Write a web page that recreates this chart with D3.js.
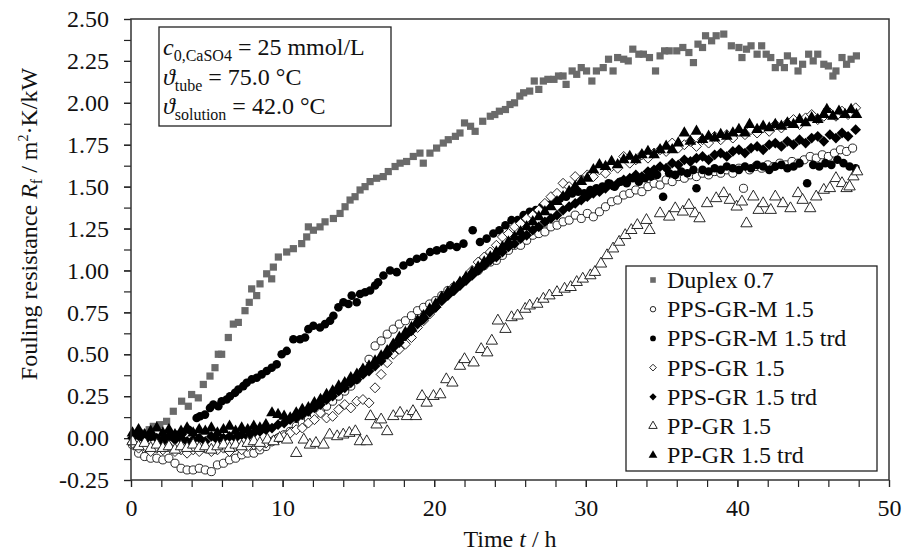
<!DOCTYPE html>
<html>

<head>
  <meta charset="utf-8">
  <title>Fouling resistance vs time</title>
  <style>
    body {
      margin: 0;
      background: #fff;
    }

    svg,
    svg text {
      font-family: "Liberation Serif", "Times New Roman", serif;
    }

    .axis text {
      font-size: 24px;
      fill: #111;
    }

    .axis line {
      stroke: #222;
      stroke-width: 1.2px;
    }

    .axis path {
      display: none;
    }
  </style>
</head>

<body>
  <svg width="905" height="552"></svg>

  <script src="https://d3js.org/d3.v7.min.js"></script>
  <script>
    // values: [time t (h), Rf (m2K/kW)]
    var duplex = [
      [0.1, 0.01], [0.5, 0.02], [0.9, 0.03], [1.2, 0.05], [1.47, 0.07], [1.9, 0.08], [2.35, 0.10], [2.79, 0.16],
      [3.34, 0.22], [3.78, 0.19], [4.0, 0.26], [4.44, 0.24], [4.77, 0.32], [5.21, 0.37], [5.54, 0.42], [5.76, 0.50],
      [5.98, 0.50], [6.42, 0.60], [6.75, 0.68], [7.08, 0.69], [7.52, 0.76], [7.8, 0.81], [7.96, 0.89], [8.29, 0.85],
      [8.51, 0.92], [8.95, 0.98], [9.28, 0.95], [9.39, 1.02], [9.72, 1.08], [10.27, 1.11], [10.71, 1.13], [11.26, 1.16],
      [11.59, 1.20], [11.7, 1.26], [12.03, 1.24], [12.47, 1.26], [12.8, 1.29], [13.35, 1.31], [13.79, 1.34], [14.12, 1.38],
      [14.45, 1.42], [14.78, 1.44], [15.11, 1.48], [15.44, 1.50], [15.77, 1.53], [16.2, 1.55], [16.64, 1.56], [16.97, 1.59],
      [17.42, 1.62], [17.75, 1.64], [18.18, 1.65], [18.62, 1.68], [19.06, 1.70], [19.28, 1.64], [19.72, 1.70], [20.16, 1.73],
      [20.6, 1.76], [20.93, 1.78], [21.4, 1.80], [21.7, 1.82], [22.0, 1.88], [22.4, 1.86], [22.7, 1.83], [23.2, 1.89],
      [23.7, 1.92], [24.0, 1.93], [24.3, 1.95], [24.7, 1.96], [25.0, 1.99], [25.3, 2.00], [25.65, 2.04], [25.9, 2.06],
      [26.3, 2.07], [26.6, 2.13], [26.9, 2.08], [27.2, 2.13], [27.5, 2.14], [27.9, 2.14], [28.2, 2.16], [28.5, 2.16],
      [28.7, 2.11], [29.1, 2.19], [29.4, 2.17], [29.7, 2.21], [30.05, 2.19], [30.4, 2.13], [30.7, 2.19], [31.15, 2.21],
      [31.5, 2.26], [31.8, 2.19], [32.1, 2.27], [32.5, 2.26], [32.8, 2.25], [33.1, 2.32], [33.5, 2.29], [33.8, 2.29],
      [34.2, 2.27], [34.6, 2.19], [34.9, 2.28], [35.2, 2.31], [35.5, 2.31], [36.0, 2.31], [36.4, 2.33], [36.8, 2.30],
      [37.1, 2.24], [37.4, 2.35], [37.7, 2.33], [37.9, 2.40], [38.3, 2.37], [38.6, 2.40], [39.1, 2.41], [39.6, 2.34],
      [40.1, 2.33], [40.3, 2.27], [40.6, 2.32], [40.9, 2.34], [41.3, 2.29], [41.6, 2.34], [41.9, 2.29], [42.2, 2.27],
      [42.5, 2.21], [42.8, 2.24], [43.1, 2.21], [43.3, 2.28], [43.7, 2.25], [44.0, 2.19], [44.3, 2.23], [44.7, 2.29],
      [45.0, 2.25], [45.3, 2.29], [45.7, 2.23], [46.0, 2.22], [46.3, 2.16], [46.5, 2.19], [46.9, 2.27], [47.2, 2.23],
      [47.5, 2.26], [47.85, 2.28]
    ];

    var ppsGrM = [
      [0.1, -0.04], [0.5, -0.09], [0.9, -0.11], [1.3, -0.12], [1.7, -0.12], [2.1, -0.13], [2.5, -0.12], [2.9, -0.15],
      [3.3, -0.18], [3.7, -0.19], [4.1, -0.19], [4.5, -0.18], [4.9, -0.19], [5.3, -0.20], [5.7, -0.16], [6.1, -0.15],
      [6.5, -0.13], [6.9, -0.12], [7.3, -0.10], [7.7, -0.09], [8.1, -0.09], [8.5, -0.07], [8.9, -0.05], [9.3, -0.02],
      [9.7, 0.00], [10.1, 0.02], [10.5, 0.04], [10.9, 0.07], [11.3, 0.09], [11.7, 0.11], [12.1, 0.14], [12.5, 0.16],
      [12.9, 0.19], [13.3, 0.22], [13.7, 0.25], [14.1, 0.28], [14.5, 0.31], [14.9, 0.35], [15.3, 0.40], [15.7, 0.47],
      [16.1, 0.55], [16.5, 0.58], [16.9, 0.62], [17.3, 0.65], [17.7, 0.68], [18.1, 0.70], [18.5, 0.73], [18.9, 0.76],
      [19.3, 0.78], [19.7, 0.80], [20.1, 0.82], [20.5, 0.85], [20.9, 0.88], [21.3, 0.90], [21.7, 0.92], [22.1, 0.95],
      [22.5, 0.98], [22.9, 1.00], [23.3, 1.03], [23.7, 1.05], [24.1, 1.06], [24.5, 1.09], [24.9, 1.12], [25.3, 1.15],
      [25.7, 1.15], [26.1, 1.18], [26.5, 1.21], [26.9, 1.22], [27.3, 1.23], [27.7, 1.26], [28.1, 1.27], [28.5, 1.29],
      [28.9, 1.30], [29.3, 1.33], [29.7, 1.31], [30.1, 1.34], [30.5, 1.32], [30.9, 1.35], [31.3, 1.38], [31.7, 1.41],
      [32.1, 1.42], [32.5, 1.45], [32.9, 1.46], [33.3, 1.48], [33.7, 1.47], [34.1, 1.50], [34.5, 1.52], [34.9, 1.51],
      [35.3, 1.54], [35.7, 1.53], [36.1, 1.56], [36.5, 1.55], [36.9, 1.57], [37.3, 1.56], [37.7, 1.58], [38.1, 1.57],
      [38.5, 1.59], [38.9, 1.58], [39.3, 1.60], [39.7, 1.58], [40.1, 1.61], [40.4, 1.49], [40.8, 1.60], [41.2, 1.62],
      [41.6, 1.61], [42.0, 1.63], [42.4, 1.62], [42.8, 1.64], [43.2, 1.63], [43.6, 1.65], [44.0, 1.64], [44.4, 1.66],
      [44.8, 1.68], [45.2, 1.67], [45.6, 1.69], [46.0, 1.68], [46.4, 1.70], [46.8, 1.72], [47.2, 1.71], [47.6, 1.73]
    ];

    var ppsGrMTrd = [
      [0.2, 0.02], [0.6, 0.01], [1.0, 0.00], [1.4, 0.01], [1.8, -0.01], [2.2, 0.00], [2.6, 0.01], [3.0, 0.02],
      [3.4, 0.03], [3.8, 0.05], [4.33, 0.12], [4.55, 0.13], [4.88, 0.14], [5.21, 0.18], [5.43, 0.20], [5.76, 0.19],
      [5.98, 0.22], [6.31, 0.23], [6.53, 0.25], [6.86, 0.27], [7.08, 0.29], [7.41, 0.31], [7.63, 0.33], [7.96, 0.35],
      [8.29, 0.36], [8.62, 0.38], [8.95, 0.40], [9.28, 0.42], [9.61, 0.44], [9.94, 0.50], [10.27, 0.52], [10.71, 0.59],
      [11.15, 0.59], [11.48, 0.60], [11.7, 0.65], [12.03, 0.67], [12.47, 0.66], [12.8, 0.68], [13.13, 0.70], [13.35, 0.73],
      [13.68, 0.78], [14.01, 0.81], [14.34, 0.80], [14.56, 0.85], [14.89, 0.81], [15.11, 0.86], [15.44, 0.87], [15.77, 0.88],
      [16.1, 0.91], [16.3, 0.93], [16.65, 0.97], [17.09, 1.00], [17.53, 0.99], [17.97, 1.03], [18.41, 1.05], [18.85, 1.07],
      [19.29, 1.08], [19.73, 1.11], [20.17, 1.12], [20.61, 1.13], [21.05, 1.15], [21.49, 1.14], [21.93, 1.16], [22.54, 1.24],
      [23.02, 1.17], [23.46, 1.19], [23.9, 1.22], [24.3, 1.24], [24.7, 1.27], [25.1, 1.30], [25.5, 1.30], [25.9, 1.33],
      [26.3, 1.35], [26.7, 1.36], [27.1, 1.38], [27.5, 1.39], [27.9, 1.42], [28.3, 1.43], [28.7, 1.44], [29.1, 1.46],
      [29.5, 1.47], [29.9, 1.46], [30.3, 1.48], [30.7, 1.49], [31.1, 1.50], [31.5, 1.52], [31.9, 1.50], [32.3, 1.53],
      [32.7, 1.52], [33.1, 1.55], [33.5, 1.53], [33.9, 1.55], [34.3, 1.56], [34.7, 1.57], [35.1, 1.44], [35.5, 1.58],
      [35.9, 1.57], [36.3, 1.59], [36.7, 1.58], [37.1, 1.60], [37.3, 1.49], [37.7, 1.60], [38.1, 1.59], [38.5, 1.61],
      [38.9, 1.60], [39.3, 1.62], [39.7, 1.61], [40.1, 1.60], [40.5, 1.62], [40.9, 1.61], [41.3, 1.63], [41.7, 1.62],
      [42.1, 1.60], [42.5, 1.62], [42.9, 1.63], [43.3, 1.61], [43.7, 1.62], [44.1, 1.64], [44.6, 1.52], [45.0, 1.63],
      [45.4, 1.62], [45.8, 1.64], [46.2, 1.63], [46.6, 1.66], [47.0, 1.64], [47.4, 1.62], [47.8, 1.61]
    ];

    var ppsGr = [
      [0.1, -0.03], [0.5, -0.06], [0.9, -0.05], [1.3, -0.08], [1.7, -0.06], [2.1, -0.07], [2.5, -0.05], [2.9, -0.08],
      [3.3, -0.07], [3.7, -0.09], [4.1, -0.07], [4.5, -0.08], [4.9, -0.06], [5.3, -0.08], [5.7, -0.07], [6.1, -0.06],
      [6.5, -0.08], [6.9, -0.05], [7.3, -0.07], [7.7, -0.05], [8.1, -0.04], [8.5, -0.05], [8.9, -0.03], [9.3, -0.02],
      [9.7, 0.00], [10.1, 0.01], [10.5, 0.03], [10.9, 0.05], [11.3, 0.06], [11.7, 0.09], [12.1, 0.11], [12.5, 0.15],
      [12.9, 0.12], [13.3, 0.13], [13.7, 0.17], [14.1, 0.20], [14.5, 0.18], [14.9, 0.22], [15.3, 0.23], [15.7, 0.21],
      [16.1, 0.30], [16.5, 0.38], [16.9, 0.45], [17.3, 0.50], [17.7, 0.53], [18.1, 0.56], [18.5, 0.60], [18.9, 0.66],
      [19.3, 0.70], [19.7, 0.74], [20.1, 0.78], [20.5, 0.82], [20.9, 0.86], [21.3, 0.88], [21.7, 0.92], [22.1, 0.95],
      [22.5, 1.00], [22.9, 1.05], [23.3, 1.08], [23.7, 1.11], [24.1, 1.15], [24.5, 1.20], [24.9, 1.22], [25.3, 1.26],
      [25.7, 1.28], [26.1, 1.31], [26.5, 1.33], [26.9, 1.36], [27.3, 1.40], [27.7, 1.44], [28.1, 1.46], [28.5, 1.52],
      [28.9, 1.50], [29.3, 1.56], [29.7, 1.54], [30.1, 1.57], [30.5, 1.56], [30.9, 1.60], [31.3, 1.58], [31.7, 1.62],
      [32.1, 1.61], [32.5, 1.68], [32.9, 1.64], [33.3, 1.66], [33.7, 1.69], [34.1, 1.67], [34.5, 1.70], [34.9, 1.72],
      [35.3, 1.71], [35.7, 1.76], [36.1, 1.73], [36.5, 1.75], [36.9, 1.77], [37.3, 1.74], [37.7, 1.78], [38.1, 1.76],
      [38.5, 1.80], [38.9, 1.78], [39.3, 1.81], [39.7, 1.79], [40.1, 1.83], [40.5, 1.81], [40.9, 1.84], [41.3, 1.82],
      [41.7, 1.85], [42.1, 1.83], [42.5, 1.87], [42.9, 1.85], [43.3, 1.88], [43.7, 1.90], [44.1, 1.87], [44.5, 1.91],
      [44.9, 1.93], [45.3, 1.90], [45.7, 1.92], [46.1, 1.94], [46.5, 1.92], [46.9, 1.95], [47.3, 1.93], [47.8, 1.97]
    ];

    var ppsGrTrd = [
      [0.1, 0.00], [0.5, 0.02], [0.9, -0.01], [1.3, 0.01], [1.7, 0.00], [2.1, -0.02], [2.5, 0.01], [2.9, -0.01],
      [3.3, 0.00], [3.7, -0.02], [4.1, -0.01], [4.5, 0.00], [4.9, -0.02], [5.3, 0.01], [5.7, -0.01], [6.1, 0.00],
      [6.5, 0.01], [6.9, 0.00], [7.3, 0.02], [7.7, 0.01], [8.1, 0.03], [8.5, 0.04], [8.9, 0.05], [9.3, 0.06],
      [9.7, 0.08], [10.1, 0.09], [10.5, 0.11], [10.9, 0.12], [11.3, 0.14], [11.7, 0.16], [12.1, 0.18], [12.5, 0.20],
      [12.9, 0.23], [13.3, 0.25], [13.7, 0.28], [14.1, 0.30], [14.5, 0.33], [14.9, 0.35], [15.3, 0.38], [15.7, 0.40],
      [16.1, 0.43], [16.5, 0.46], [16.9, 0.50], [17.3, 0.54], [17.7, 0.57], [18.1, 0.61], [18.5, 0.64], [18.9, 0.68],
      [19.3, 0.71], [19.7, 0.75], [20.1, 0.78], [20.5, 0.82], [20.9, 0.85], [21.3, 0.88], [21.7, 0.91], [22.1, 0.94],
      [22.5, 0.97], [22.9, 1.00], [23.3, 1.03], [23.7, 1.06], [24.1, 1.08], [24.5, 1.11], [24.9, 1.14], [25.3, 1.16],
      [25.7, 1.19], [26.1, 1.21], [26.5, 1.24], [26.9, 1.26], [27.3, 1.29], [27.7, 1.31], [28.1, 1.33], [28.5, 1.36],
      [28.9, 1.38], [29.3, 1.40], [29.7, 1.42], [30.1, 1.44], [30.5, 1.46], [30.9, 1.47], [31.3, 1.49], [31.7, 1.51],
      [32.1, 1.52], [32.5, 1.54], [32.9, 1.55], [33.3, 1.57], [33.7, 1.56], [34.1, 1.59], [34.5, 1.60], [34.9, 1.62],
      [35.3, 1.61], [35.7, 1.64], [36.1, 1.63], [36.5, 1.66], [36.9, 1.65], [37.3, 1.67], [37.7, 1.68], [38.1, 1.66],
      [38.5, 1.69], [38.9, 1.70], [39.3, 1.68], [39.7, 1.71], [40.1, 1.72], [40.5, 1.70], [40.9, 1.73], [41.3, 1.74],
      [41.7, 1.72], [42.1, 1.75], [42.5, 1.76], [42.9, 1.74], [43.3, 1.77], [43.7, 1.75], [44.1, 1.78], [44.5, 1.76],
      [44.9, 1.79], [45.3, 1.80], [45.7, 1.77], [46.1, 1.81], [46.5, 1.79], [46.9, 1.82], [47.3, 1.80], [47.8, 1.84]
    ];

    var ppGr = [
      [0.1, -0.02], [0.5, -0.05], [0.9, -0.03], [1.3, -0.06], [1.7, -0.04], [2.1, -0.06], [2.5, -0.05], [2.9, -0.07],
      [3.3, -0.05], [3.7, -0.06], [4.1, -0.04], [4.5, -0.06], [4.9, -0.05], [5.3, -0.07], [5.7, -0.05], [6.1, -0.04],
      [6.5, -0.06], [6.9, -0.04], [7.3, -0.05], [7.7, -0.03], [8.1, -0.02], [8.5, -0.03], [9.0, -0.01], [9.4, -0.02],
      [9.8, 0.00], [10.3, -0.01], [10.9, -0.09], [11.4, -0.01], [11.8, -0.04], [12.2, -0.03], [12.7, -0.04], [13.1, 0.02],
      [13.6, 0.01], [14.0, 0.02], [14.4, 0.03], [14.8, 0.04], [15.1, -0.02], [15.55, -0.02], [15.8, 0.13], [16.2, 0.08],
      [16.5, 0.11], [16.9, 0.04], [17.3, 0.13], [17.75, 0.15], [18.2, 0.13], [18.6, 0.16], [18.8, 0.13], [19.2, 0.25],
      [19.5, 0.21], [19.95, 0.25], [20.4, 0.26], [20.8, 0.35], [21.2, 0.33], [21.7, 0.43], [22.0, 0.47], [22.6, 0.45],
      [23.1, 0.53], [23.5, 0.51], [23.8, 0.58], [24.2, 0.70], [24.7, 0.65], [25.1, 0.72], [25.5, 0.73], [26.0, 0.77],
      [26.3, 0.79], [26.8, 0.80], [27.2, 0.83], [27.6, 0.85], [28.1, 0.87], [28.6, 0.89], [29.0, 0.90], [29.4, 0.93],
      [29.8, 0.95], [30.3, 0.97], [30.6, 0.99], [31.0, 1.04], [31.4, 1.09], [31.8, 1.13], [32.2, 1.17], [32.6, 1.21],
      [33.0, 1.24], [33.4, 1.27], [34.0, 1.30], [34.2, 1.24], [34.9, 1.34], [35.5, 1.32], [35.9, 1.37], [36.4, 1.35],
      [36.8, 1.39], [37.2, 1.34], [37.5, 1.31], [38.0, 1.40], [38.6, 1.43], [39.1, 1.46], [39.5, 1.42], [39.95, 1.38],
      [40.3, 1.41], [40.6, 1.28], [41.05, 1.44], [41.4, 1.36], [41.7, 1.40], [42.2, 1.36], [42.5, 1.44], [43.0, 1.40],
      [43.5, 1.37], [44.0, 1.46], [44.3, 1.42], [44.8, 1.37], [45.2, 1.44], [45.7, 1.48], [46.1, 1.49], [46.5, 1.55],
      [46.9, 1.52], [47.2, 1.49], [47.4, 1.50], [47.65, 1.56], [47.9, 1.59]
    ];

    var ppGrTrd = [
      [0.1, 0.03], [0.5, 0.05], [0.9, 0.02], [1.3, 0.04], [1.7, 0.06], [2.1, 0.03], [2.5, 0.05], [2.9, 0.02],
      [3.3, 0.04], [3.7, 0.06], [4.1, 0.03], [4.5, 0.05], [4.9, 0.04], [5.3, 0.06], [5.7, 0.03], [6.1, 0.05],
      [6.5, 0.07], [6.9, 0.04], [7.3, 0.06], [7.7, 0.05], [8.1, 0.07], [8.5, 0.06], [8.9, 0.08], [9.3, 0.15],
      [9.7, 0.14], [10.1, 0.13], [10.5, 0.12], [10.9, 0.15], [11.3, 0.17], [11.7, 0.18], [12.1, 0.21], [12.5, 0.23],
      [12.9, 0.26], [13.3, 0.28], [13.7, 0.31], [14.1, 0.33], [14.5, 0.36], [14.9, 0.38], [15.3, 0.41], [15.7, 0.43],
      [16.1, 0.46], [16.5, 0.49], [16.9, 0.52], [17.3, 0.56], [17.7, 0.60], [18.1, 0.63], [18.5, 0.66], [18.9, 0.70],
      [19.3, 0.73], [19.7, 0.77], [20.1, 0.80], [20.5, 0.84], [20.9, 0.87], [21.3, 0.90], [21.7, 0.93], [22.1, 0.96],
      [22.5, 0.99], [22.9, 1.02], [23.3, 1.05], [23.7, 1.08], [24.1, 1.11], [24.5, 1.14], [24.9, 1.17], [25.3, 1.20],
      [25.7, 1.23], [26.1, 1.26], [26.5, 1.29], [26.9, 1.32], [27.3, 1.35], [27.7, 1.38], [28.1, 1.41], [28.5, 1.44],
      [28.9, 1.47], [29.3, 1.50], [29.7, 1.53], [30.1, 1.55], [30.5, 1.60], [30.9, 1.63], [31.3, 1.62], [31.7, 1.65],
      [32.1, 1.63], [32.5, 1.66], [32.9, 1.68], [33.3, 1.66], [33.7, 1.69], [34.1, 1.71], [34.5, 1.69], [34.9, 1.72],
      [35.3, 1.74], [35.7, 1.72], [36.1, 1.76], [36.5, 1.82], [36.9, 1.77], [37.3, 1.83], [37.7, 1.78], [38.1, 1.80],
      [38.5, 1.79], [38.9, 1.81], [39.3, 1.80], [39.7, 1.82], [40.1, 1.84], [40.5, 1.82], [40.8, 1.87], [41.3, 1.84],
      [41.7, 1.86], [42.1, 1.85], [42.5, 1.87], [42.9, 1.86], [43.3, 1.88], [43.7, 1.87], [44.1, 1.90], [44.5, 1.88],
      [44.9, 1.91], [45.3, 1.90], [45.7, 1.93], [45.9, 1.96], [46.3, 1.92], [46.7, 1.95], [47.1, 1.93], [47.5, 1.96],
      [47.85, 1.93]
    ];

    var seriesNames = ['Duplex 0.7', 'PPS-GR-M 1.5', 'PPS-GR-M 1.5 trd', 'PPS-GR 1.5', 'PPS-GR 1.5 trd', 'PP-GR 1.5', 'PP-GR 1.5 trd'];
    var seriesData = [duplex, ppsGrM, ppsGrMTrd, ppsGr, ppsGrTrd, ppGr, ppGrTrd];

    var xMajorTicks = [0, 10, 20, 30, 40, 50];
    var yMajorTicks = [-0.25, 0, 0.25, 0.5, 0.75, 1, 1.25, 1.5, 1.75, 2, 2.25, 2.5];

    // marker styles per series (same order as seriesNames)
    var markerStyles = [
      { shape: 'square', fill: '#6a6a6a', stroke: 'none', size: 52 },
      { shape: 'circle', fill: '#fff', stroke: '#111', size: 52 },
      { shape: 'circle', fill: '#000', stroke: 'none', size: 58 },
      { shape: 'diamond', fill: '#fff', stroke: '#111', size: 50 },
      { shape: 'diamond', fill: '#000', stroke: 'none', size: 58 },
      { shape: 'triangle', fill: '#fff', stroke: '#111', size: 56 },
      { shape: 'triangle', fill: '#000', stroke: 'none', size: 60 }
    ];
    var legendScale = [0.6, 0.45, 0.45, 0.45, 0.45, 0.55, 0.55];

    var svg = d3.select('svg');

    var plot = { left: 131, right: 889, top: 19, bottom: 480 };

    var x = d3.scaleLinear().domain([0, 50]).range([plot.left, plot.right]);
    var y = d3.scaleLinear().domain([-0.25, 2.5]).range([plot.bottom, plot.top]);

    function symbolPath(shape, size) {
      if (shape === 'square') return d3.symbol().type(d3.symbolSquare).size(size)();
      if (shape === 'circle') return d3.symbol().type(d3.symbolCircle).size(size)();
      if (shape === 'triangle') return d3.symbol().type(d3.symbolTriangle).size(size)();
      // excel style diamond: a square turned by 45 degrees
      var r = Math.sqrt(size / 2);
      return 'M0,' + (-r) + 'L' + r + ',0L0,' + r + 'L' + (-r) + ',0Z';
    }

    // hyphen instead of the unicode minus, like the original
    var yFormat = function(v) { return d3.format('.2f')(v).replace('\u2212', '-'); };

    function styleAxis(g) {
      g.attr('font-family', null).attr('font-size', null);
    }

    // minor ticks first, then the labelled ones
    svg.append('g')
      .attr('class', 'axis')
      .attr('transform', 'translate(0,' + plot.bottom + ')')
      .call(d3.axisBottom(x).tickValues(d3.range(0, 50.01, 2)).tickSize(7).tickFormat(''))
      .call(styleAxis);

    svg.append('g')
      .attr('class', 'axis')
      .attr('transform', 'translate(0,' + plot.bottom + ')')
      .call(d3.axisBottom(x).tickValues(xMajorTicks).tickSize(7).tickPadding(12).tickFormat(d3.format('d')))
      .call(styleAxis);

    svg.append('g')
      .attr('class', 'axis')
      .attr('transform', 'translate(' + plot.left + ',0)')
      .call(d3.axisLeft(y).tickValues(d3.range(-0.25, 2.51, 0.125)).tickSize(7).tickFormat(''))
      .call(styleAxis);

    svg.append('g')
      .attr('class', 'axis')
      .attr('transform', 'translate(' + plot.left + ',0)')
      .call(d3.axisLeft(y).tickValues(yMajorTicks).tickSize(7).tickPadding(15).tickFormat(yFormat))
      .call(styleAxis);

    // markers
    seriesData.forEach(function(data, i) {
      var style = markerStyles[i];
      var d = symbolPath(style.shape, style.size);
      svg.append('g')
        .selectAll('path')
        .data(data)
        .enter().append('path')
        .attr('d', d)
        .attr('transform', function(p) { return 'translate(' + x(p[0]) + ',' + y(p[1]) + ')'; })
        .attr('fill', style.fill)
        .attr('stroke', style.stroke)
        .attr('stroke-width', 0.9);
    });

    // plot frame
    svg.append('rect')
      .attr('x', plot.left)
      .attr('y', plot.top)
      .attr('width', plot.right - plot.left)
      .attr('height', plot.bottom - plot.top)
      .attr('fill', 'none')
      .attr('stroke', '#333')
      .attr('stroke-width', 1.5);

    // conditions box
    svg.append('rect')
      .attr('x', 159).attr('y', 27).attr('width', 232).attr('height', 99)
      .attr('fill', '#fff').attr('stroke', '#222').attr('stroke-width', 1.3);

    var info = svg.append('g').attr('font-size', 24).attr('fill', '#111');

    var l1 = info.append('text').attr('x', 163).attr('y', 55);
    l1.append('tspan').attr('font-style', 'italic').text('c');
    l1.append('tspan').attr('font-size', 16).attr('dy', 6).text('0,CaSO4');
    l1.append('tspan').attr('dy', -6).text(' = 25 mmol/L');

    var l2 = info.append('text').attr('x', 163).attr('y', 85);
    l2.append('tspan').attr('font-style', 'italic').text('\u03D1');
    l2.append('tspan').attr('font-size', 16).attr('dy', 6).text('tube');
    l2.append('tspan').attr('dy', -6).text(' = 75.0 \u00B0C');

    var l3 = info.append('text').attr('x', 163).attr('y', 114);
    l3.append('tspan').attr('font-style', 'italic').text('\u03D1');
    l3.append('tspan').attr('font-size', 16).attr('dy', 6).text('solution');
    l3.append('tspan').attr('dy', -6).text(' = 42.0 \u00B0C');

    // legend
    svg.append('rect')
      .attr('x', 626).attr('y', 266).attr('width', 251).attr('height', 205)
      .attr('fill', '#fff').attr('stroke', '#222').attr('stroke-width', 1.3);

    var legendRows = svg.append('g')
      .selectAll('g')
      .data(seriesNames)
      .enter().append('g')
      .attr('transform', function(name, i) { return 'translate(653,' + (288 + i * 29.2) + ')'; });

    legendRows.append('path')
      .attr('d', function(name, i) { return symbolPath(markerStyles[i].shape, markerStyles[i].size * legendScale[i]); })
      .attr('transform', 'translate(0,-8)')
      .attr('fill', function(name, i) { return markerStyles[i].fill; })
      .attr('stroke', function(name, i) { return markerStyles[i].stroke; })
      .attr('stroke-width', 0.9);

    legendRows.append('text')
      .attr('x', 14)
      .attr('font-size', 24)
      .attr('fill', '#111')
      .text(function(name) { return name; });

    // axis titles
    var xTitle = svg.append('text')
      .attr('x', (plot.left + plot.right) / 2)
      .attr('y', 547)
      .attr('text-anchor', 'middle')
      .attr('font-size', 24)
      .attr('fill', '#111');
    xTitle.append('tspan').text('Time ');
    xTitle.append('tspan').attr('font-style', 'italic').text('t');
    xTitle.append('tspan').text(' / h');

    var yTitle = svg.append('text')
      .attr('transform', 'translate(37,224) rotate(-90)')
      .attr('text-anchor', 'middle')
      .attr('font-size', 24)
      .attr('fill', '#111');
    yTitle.append('tspan').text('Fouling resistance ');
    yTitle.append('tspan').attr('font-style', 'italic').text('R');
    yTitle.append('tspan').attr('font-size', 16).attr('dy', 5).text('f');
    yTitle.append('tspan').attr('dy', -5).text(' / m');
    yTitle.append('tspan').attr('font-size', 14).attr('dy', -9).text('2');
    yTitle.append('tspan').attr('dy', 9).text('\u00B7K/kW');
  </script>
</body>

</html>
